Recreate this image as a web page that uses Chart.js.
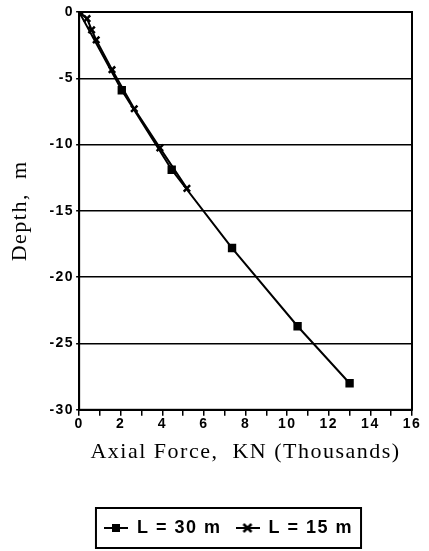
<!DOCTYPE html>
<html>
<head>
<meta charset="utf-8">
<script src="https://cdn.jsdelivr.net/npm/chart.js@4"></script>
<style>
  html, body { margin: 0; padding: 0; background: #fff; }
  #wrap { width: 429px; height: 551px; position: relative; }
</style>
</head>
<body>
<div id="wrap"><canvas id="chart"></canvas></div>
<script>
// Data (axial force in thousands of kN, depth in m)
const force30 = [0, 2.05, 4.45, 7.35, 10.5, 13.0];
const depth30 = [0, -5.9, -11.9, -17.8, -23.7, -28.0];

const force15 = [0, 0.38, 0.6, 0.82, 1.58, 2.65, 3.88, 5.18];
const depth15 = [0, -0.5, -1.35, -2.1, -4.35, -7.3, -10.25, -13.3];

const xTicks = [0, 2, 4, 6, 8, 10, 12, 14, 16];
const yTicks = [0, -5, -10, -15, -20, -25, -30];

const toPoints = (xs, ys) => xs.map((x, i) => ({ x: x, y: ys[i] }));

// The scanned original has loosely spaced lettering
const spacingPlugin = {
    id: 'spacing',
    beforeUpdate(chart) { chart.ctx.letterSpacing = '1.5px'; },
    beforeLayout(chart) { chart.ctx.letterSpacing = '1.5px'; },
    beforeDraw(chart) { chart.ctx.letterSpacing = '1.5px'; },
    afterLayout(chart) {
        // legend sits a bit right of centre in the original
        if (chart.legend) {
            chart.legend.left += 19;
            chart.legend.right += 19;
        }
    }
};

// Frame around plot area + box around legend
const framePlugin = {
    id: 'frame',
    afterDraw(chart) {
        const ctx = chart.ctx;
        const a = chart.chartArea;
        ctx.save();
        ctx.strokeStyle = '#000';
        ctx.lineWidth = 2;
        ctx.strokeRect(a.left, a.top, a.right - a.left, a.bottom - a.top);
        const lg = chart.legend;
        if (lg && lg.legendHitBoxes.length) {
            const first = lg.legendHitBoxes[0];
            const last = lg.legendHitBoxes[lg.legendHitBoxes.length - 1];
            const x0 = first.left - 8;
            const x1 = last.left + last.width + 8;
            const cy = first.top + first.height / 2;
            ctx.strokeRect(x0, cy - 20, x1 - x0, 40);
        }
        ctx.restore();
    }
};

function legendIcon(kind) {
    const c = document.createElement('canvas');
    c.width = 24; c.height = 12;
    const g = c.getContext('2d');
    g.strokeStyle = '#000';
    g.fillStyle = '#000';
    g.lineWidth = 2;
    g.beginPath(); g.moveTo(0, 6); g.lineTo(24, 6); g.stroke();
    if (kind === 'square') {
        g.fillRect(8, 2, 8, 8);
    } else {
        g.lineWidth = 2.5;
        g.beginPath();
        g.moveTo(8, 2); g.lineTo(16, 10);
        g.moveTo(16, 2); g.lineTo(8, 10);
        g.stroke();
    }
    return c;
}

window.addEventListener('load', () => {
    const ctx = document.getElementById('chart').getContext('2d');
    const icons = [legendIcon('square'), legendIcon('cross')];

    new Chart(ctx, {
        type: 'scatter',
        data: {
            datasets: [
                {
                    label: 'L = 30 m',
                    data: toPoints(force30, depth30),
                    showLine: true,
                    borderColor: '#000',
                    backgroundColor: '#000',
                    borderWidth: 2,
                    pointStyle: 'rect',
                    pointRadius: 4.5,
                    tension: 0
                },
                {
                    label: 'L = 15 m',
                    data: toPoints(force15, depth15),
                    showLine: true,
                    borderColor: '#000',
                    backgroundColor: '#000',
                    borderWidth: 2,
                    pointStyle: 'crossRot',
                    pointRadius: 4.5,
                    pointBorderWidth: 2.5,
                    tension: 0
                }
            ]
        },
        options: {
            responsive: true,
            maintainAspectRatio: false,
            animation: false,
            layout: { padding: { top: 12, right: 17, left: 7, bottom: 4 } },
            plugins: {
                tooltip: { enabled: false },
                legend: {
                    position: 'bottom',
                    labels: {
                        color: '#000',
                        font: { family: 'Liberation Sans', weight: 'bold', size: 18 },
                        usePointStyle: true,
                        pointStyleWidth: 24,
                        boxHeight: 12,
                        padding: 14,
                        generateLabels(chart) {
                            return chart.data.datasets.map((d, i) => ({
                                text: d.label,
                                pointStyle: icons[i],
                                datasetIndex: i,
                                fontColor: '#000',
                                strokeStyle: '#000',
                                fillStyle: '#000',
                                lineWidth: 0,
                                hidden: false
                            }));
                        }
                    }
                }
            },
            scales: {
                x: {
                    type: 'linear',
                    min: 0,
                    max: 16,
                    afterBuildTicks(axis) {
                        const t = [];
                        for (let v = 0; v <= 16; v++) t.push({ value: v });
                        axis.ticks = t;
                    },
                    ticks: {
                        color: '#000',
                        autoSkip: false,
                        maxRotation: 0,
                        padding: 0,
                        font: { family: 'Liberation Sans', weight: 'bold', size: 14 },
                        callback: v => xTicks.includes(v) ? String(v) : ''
                    },
                    grid: {
                        drawOnChartArea: false,
                        drawTicks: true,
                        tickLength: 6,
                        color: '#000',
                        lineWidth: 1.5
                    },
                    border: { color: '#000', width: 2 },
                    title: {
                        display: true,
                        text: 'Axial Force,  KN (Thousands)',
                        color: '#000',
                        font: { family: 'Liberation Serif', size: 22 },
                        padding: { top: 6, bottom: 40 }
                    }
                },
                y: {
                    type: 'linear',
                    min: -30,
                    max: 0,
                    afterBuildTicks(axis) {
                        axis.ticks = yTicks.map(v => ({ value: v }));
                    },
                    ticks: {
                        color: '#000',
                        padding: 2,
                        font: { family: 'Liberation Sans', weight: 'bold', size: 14 }
                    },
                    grid: {
                        color: '#000',
                        lineWidth: 1.5,
                        drawTicks: true,
                        tickLength: 3
                    },
                    border: { color: '#000', width: 2 },
                    title: {
                        display: true,
                        text: 'Depth,  m',
                        color: '#000',
                        font: { family: 'Liberation Serif', size: 22 },
                        padding: { top: 0, bottom: 14 }
                    }
                }
            }
        },
        plugins: [spacingPlugin, framePlugin]
    });
});
</script>
</body>
</html>
